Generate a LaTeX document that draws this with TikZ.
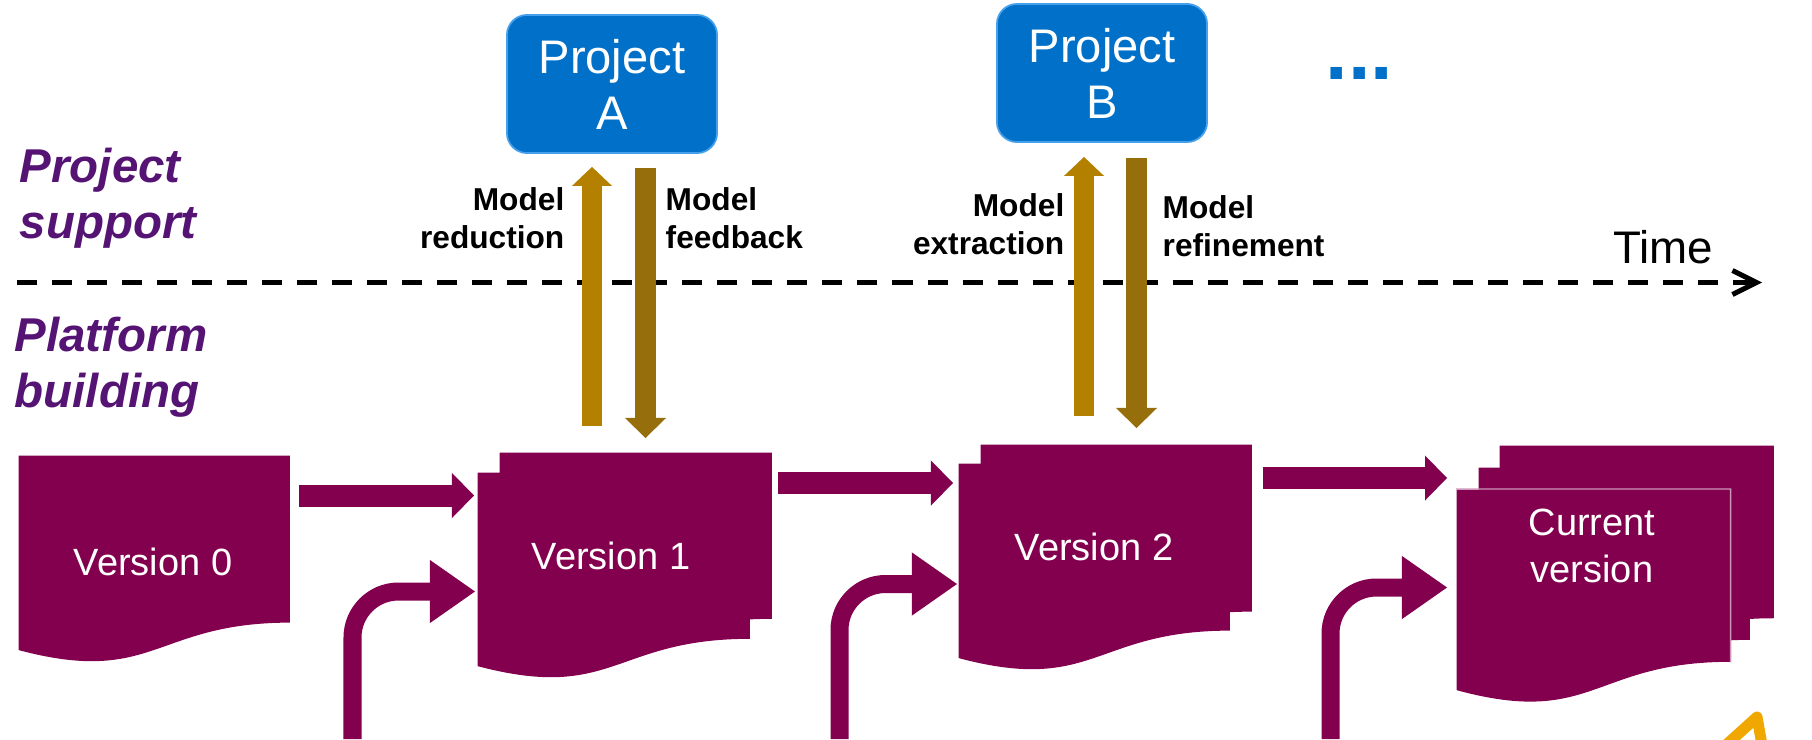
\documentclass[tikz,border=0pt]{standalone}
\usepackage{fontspec}
\setmainfont{Liberation Sans}
\usetikzlibrary{arrows.meta,calc}
\definecolor{docred}{RGB}{130,0,78}
\definecolor{docedge}{RGB}{205,150,185}
\definecolor{projblue}{RGB}{0,112,200}
\definecolor{projedge}{RGB}{70,160,235}
\definecolor{upgold}{RGB}{179,128,0}
\definecolor{downgold}{RGB}{151,110,12}
\definecolor{lanepurple}{RGB}{85,20,115}
\definecolor{logoorange}{RGB}{240,168,0}
\begin{document}
\begin{tikzpicture}[x=0.01cm, y=-0.01cm,
        docsheet/.style 2 args={inner sep=0pt, anchor=north west, minimum width=#1, minimum height=#2,
            path picture={
                \fill[docred] let \p1=(path picture bounding box.north west), \p2=(path picture bounding box.south east) in
                    (\x1,\y1) -- (\x2,\y1) -- (\x2,{\y1+0.802*(\y2-\y1)})
                    .. controls ({0.5*(\x1+\x2)},{\y1+0.802*(\y2-\y1)}) and ({0.5*(\x1+\x2)},{\y1+1.1075*(\y2-\y1)})
                    .. (\x1,{\y1+0.934*(\y2-\y1)}) -- cycle;
            }},
        vertext/.style={text=white, inner sep=0pt, align=center, font=\fontsize{10.8}{13.4}\selectfont},
        projbox/.style={rounded corners=0.2cm, fill=projblue, draw=projedge, line width=0.5pt,
            minimum width=2.1cm, minimum height=1.38cm, text=white, align=center,
            font=\fontsize{13.4}{15.9}\selectfont},
        flow/.style={docred, line width=0.22cm, -{Triangle[length=0.22cm, width=0.45cm, line width=0pt]}},
        bentflow/.style={docred, line width=0.18cm, rounded corners=0.46cm,
            -{Triangle[length=0.45cm, width=0.63cm, line width=0pt]}},
        upflow/.style={upgold, line width=0.2cm, -{Triangle[length=0.19cm, width=0.4cm, line width=0pt]}},
        downflow/.style={downgold, line width=0.21cm, -{Triangle[length=0.2cm, width=0.41cm, line width=0pt]}},
        modellbl/.style={inner sep=0pt, font=\bfseries\fontsize{9}{10.8}\selectfont},
        lanelbl/.style={anchor=west, inner sep=0pt, align=left, text=lanepurple,
            font=\bfseries\itshape\fontsize{13.5}{15.9}\selectfont},
        timeline/.style={line width=0.05cm, dash pattern=on 0.2cm off 0.15cm,
            -{Straight Barb[length=0.24cm, width=0.24cm]}}
    ]
    \useasboundingbox (0,0) rectangle (1812,739);

    % lanes and time axis
    \node[lanelbl] (support) at (19,198.5) {Project\\support};
    \node[lanelbl] (building) at (14,367) {Platform\\building};
    \coordinate (t0) at (17,282.5);
    \coordinate (t1) at (1762,282.5);
    \draw[timeline] (t0) -- (t1);
    \node[inner sep=0pt, font=\fontsize{13}{15}\selectfont] (time) at (1663,247) {Time};

    % projects
    \node[projbox] (pa) at (612,84) {Project\\A};
    \node[projbox] (pb) at (1102,73) {Project\\B};
    \node[anchor=base west, inner sep=0pt, text=projblue, font=\bfseries\fontsize{23}{27}\selectfont] (more) at (1325,79) {...};

    % platform versions
    \node[docsheet={2.71cm}{2.08cm}] (s0) at (18,455) {};
    \node[docsheet={2.72cm}{2.07cm}] (s1b) at (499,452) {};  % back
    \node[docsheet={2.72cm}{2.07cm}] (s1) at (477,472) {};
    \node[docsheet={2.71cm}{2.08cm}] (s2b) at (980,444) {};  % back
    \node[docsheet={2.71cm}{2.08cm}] (s2) at (958,463) {};
    \node[docsheet={2.74cm}{2.15cm}] (scb) at (1499,445) {};  % back
    \node[docsheet={2.71cm}{2.145cm}] (scm) at (1478,467) {};  % middle
    \node[docsheet={2.73cm}{2.145cm}] (scf) at (1456,489) {};
    \draw[docedge, line width=0.4pt] (scf.north west) -- (scf.north east) -- ($(scf.north east)!0.802!(scf.south east)$);
    \node[vertext] (v0) at (153,562) {Version 0};
    \node[vertext] (v1) at (611,556) {Version 1};
    \node[vertext] (v2) at (1094,547) {Version 2};
    \node[vertext] (vc) at (1592,545.5) {Current\\version};

    % evolution
    \draw[flow] ($(s0.north east)+(8,40.5)$) -- ($(s1.north west)+(-3,23.5)$);
    \draw[flow] ($(s1b.north east)+(5,31)$) -- ($(s2.north west)+(-5,20)$);
    \draw[flow] ($(s2b.north east)+(10,34)$) -- ($(scf.north west)+(-9,-11)$);
    \coordinate (in1) at (352.5,739);
    \coordinate (in2) at (839.5,739);
    \coordinate (in3) at (1330.5,739);
    \draw[bentflow] (in1) |- ($(s1.north west)+(-2,119.5)$);
    \draw[bentflow] (in2) |- ($(s2.north west)+(-1,121)$);
    \draw[bentflow] (in3) |- ($(scf.north west)+(-9,98.5)$);

    % exchanges with projects
    \draw[upflow] ($(s1b.north west)+(93,-26)$) -- ($(pa.south)+(-20,13)$);
    \draw[downflow] ($(pa.south)+(33.5,14)$) -- ($(s1b.north west)+(146.5,-14)$);
    \draw[upflow] ($(s2b.north west)+(104,-28)$) -- ($(pb.south)+(-18,14)$);
    \draw[downflow] ($(pb.south)+(34.5,15)$) -- ($(s2b.north west)+(156.5,-16)$);
    \node[modellbl, anchor=east, align=right] (lred) at (565,218.5) {Model\\reduction};
    \node[modellbl, anchor=west, align=left] (lfb) at (665,218.5) {Model\\feedback};
    \node[modellbl, anchor=east, align=right] (lext) at (1065,224) {Model\\extraction};
    \node[modellbl, anchor=west, align=left] (lref) at (1162,226.5) {Model\\refinement};

    \draw[logoorange, line width=0.11cm, line join=round] (1726,745) -- (1757,717) -- (1762,745);
\end{tikzpicture}
\end{document}
